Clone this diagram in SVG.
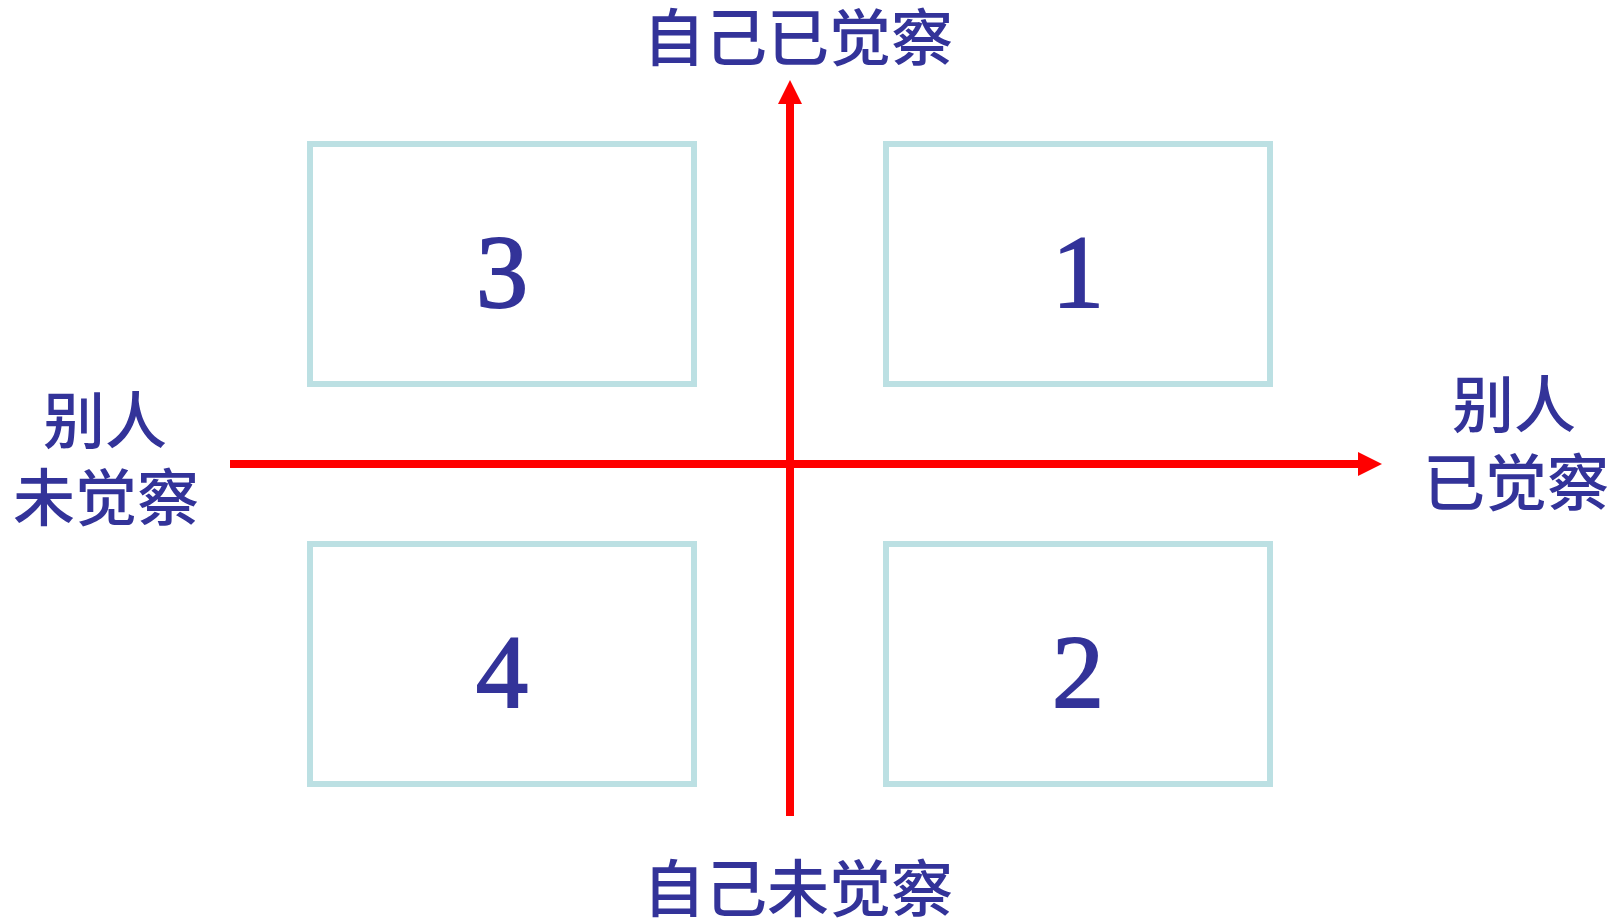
<svg xmlns="http://www.w3.org/2000/svg" width="1624" height="923" viewBox="0 0 1624 923">
<style>
.box{fill:#ffffff;stroke:#bce0e3;stroke-width:6}
.num{font-family:"Liberation Serif","Times New Roman",serif;font-size:104px;fill:#333399;stroke:#333399;stroke-width:2;text-anchor:middle}
.lbl{font-family:"Noto Sans CJK SC","Noto Sans CJK TC",sans-serif;font-size:62px;font-weight:500;fill:#333399;text-anchor:middle}
.axis{stroke:#ff0000;stroke-width:8;fill:none}
</style>
<defs>
<marker id="ah" markerUnits="userSpaceOnUse" markerWidth="24" markerHeight="24" refX="0" refY="12" orient="auto" viewBox="0 0 24 24">
<path d="M0,0 L24,12 L0,24 Z" fill="#ff0000"/>
</marker>
</defs>
<rect width="1624" height="923" fill="#ffffff"/>
<g id="q3"><rect class="box" x="310" y="144" width="384" height="240"/><text class="num" x="502" y="307">3</text></g>
<g id="q1"><rect class="box" x="886" y="144" width="384" height="240"/><text class="num" x="1078" y="307">1</text></g>
<g id="q4"><rect class="box" x="310" y="544" width="384" height="240"/><text class="num" x="502" y="707">4</text></g>
<g id="q2"><rect class="box" x="886" y="544" width="384" height="240"/><text class="num" x="1078" y="707">2</text></g>
<g id="connectors">
<line class="axis" x1="230" y1="464" x2="1358" y2="464" marker-end="url(#ah)"/>
<line class="axis" x1="790" y1="816" x2="790" y2="104" marker-end="url(#ah)"/>
</g>
<g id="label-top"><text class="lbl" x="798" y="61">自己已觉察</text></g>
<g id="label-bottom"><text class="lbl" x="798" y="912">自己未觉察</text></g>
<g id="label-left"><text class="lbl" x="105" y="444">别人</text><text class="lbl" x="106" y="521">未觉察</text></g>
<g id="label-right"><text class="lbl" x="1514" y="428">别人</text><text class="lbl" x="1516" y="506">已觉察</text></g>
</svg>
